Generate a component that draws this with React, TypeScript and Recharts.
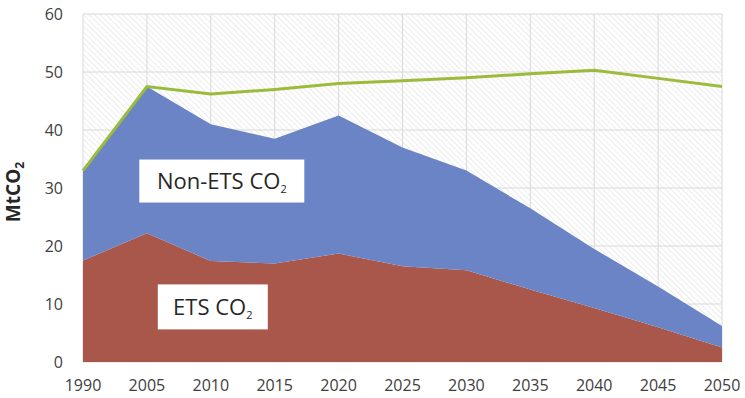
import React from 'react'
import {
  ComposedChart,
  Area,
  Line,
  XAxis,
  YAxis,
  CartesianGrid,
  ReferenceDot,
  Label,
} from 'recharts'

const years = ['1990', '2005', '2010', '2015', '2020', '2025', '2030', '2035', '2040', '2045', '2050']
const etsCO2 = [17.5, 22.2, 17.4, 17.0, 18.7, 16.5, 15.8, 12.5, 9.3, 6.0, 2.5]
const nonEtsCO2 = [15.5, 25.3, 23.6, 21.5, 23.8, 20.5, 17.2, 14.0, 10.2, 7.0, 3.7]
const target = [33.0, 47.5, 46.2, 47.0, 48.0, 48.5, 49.0, 49.7, 50.3, 48.9, 47.5]
const yTicks = [0, 10, 20, 30, 40, 50, 60]

const data = years.map((year, i) => ({
  year,
  ets: etsCO2[i],
  nonEts: nonEtsCO2[i],
  target: target[i],
}))

const FONT = 'Open Sans, Noto Sans, sans-serif'

// white text box used for the two area labels
const boxLabel = (text: string, w: number, h: number, shiftX: number) => (props: any) => {
  const { cx, cy } = props
  if (cx == null || cy == null) return null
  const x = cx + shiftX
  return (
    <g>
      <rect x={x - w / 2} y={cy - h / 2} width={w} height={h} fill="#ffffff" />
      <text x={x} y={cy + 8} textAnchor="middle" fontSize={22} fill="#262626" fontFamily={FONT}>
        {text}
        <tspan fontSize={11} dy={4}>2</tspan>
      </text>
    </g>
  )
}

const YTitle = (props: any) => {
  const { viewBox } = props
  const cx = 20
  const cy = viewBox.y + viewBox.height / 2 + 4
  return (
    <text
      x={cx}
      y={cy}
      transform={`rotate(-90 ${cx} ${cy})`}
      textAnchor="middle"
      fontSize={19}
      fontWeight="bold"
      fill="#262626"
      fontFamily={FONT}
    >
      MtCO
      <tspan fontSize={12} dy={4}>2</tspan>
    </text>
  )
}

export default function App() {
  return (
    <div style={{ position: 'absolute', left: 0, top: 0, background: '#fff' }}>
      <ComposedChart
        width={745}
        height={398}
        data={data}
        margin={{ top: 14, right: 23, left: 0, bottom: 0 }}
      >
        <defs>
          <pattern id="hatch" width="4" height="4" patternUnits="userSpaceOnUse" patternTransform="rotate(-45)">
            <rect width="4" height="4" fill="#ffffff" />
            <line x1="0" y1="0" x2="0" y2="4" stroke="#e6e6e6" strokeWidth="1.5" />
          </pattern>
        </defs>
        <CartesianGrid fill="url(#hatch)" stroke="#d9d9d9" strokeWidth={1} />
        <XAxis
          dataKey="year"
          interval={0}
          tickLine={false}
          axisLine={false}
          height={36}
          tickMargin={12}
          tick={{ fontSize: 16, fill: '#404040', fontFamily: FONT }}
          padding={{ left: 0, right: 0 }}
        />
        <YAxis
          domain={[0, 60]}
          ticks={yTicks}
          width={83}
          tickLine={false}
          axisLine={false}
          tickMargin={14}
          tick={{ fontSize: 16, fill: '#404040', fontFamily: FONT }}
        >
          <Label content={<YTitle />} />
        </YAxis>
        <Area
          type="linear"
          dataKey="ets"
          stackId="co2"
          fill="#A9574A"
          fillOpacity={1}
          stroke="none"
          isAnimationActive={false}
        />
        <Area
          type="linear"
          dataKey="nonEts"
          stackId="co2"
          fill="#6A84C6"
          fillOpacity={1}
          stroke="none"
          isAnimationActive={false}
        />
        <Line
          type="linear"
          dataKey="target"
          stroke="#9BBB3B"
          strokeWidth={3}
          dot={false}
          isAnimationActive={false}
        />
        <ReferenceDot x="2010" y={31.2} r={0} shape={boxLabel('Non-ETS CO', 165, 43, 11)} />
        <ReferenceDot x="2010" y={9.5} r={0} shape={boxLabel('ETS CO', 110, 45, 2)} />
      </ComposedChart>
    </div>
  )
}
